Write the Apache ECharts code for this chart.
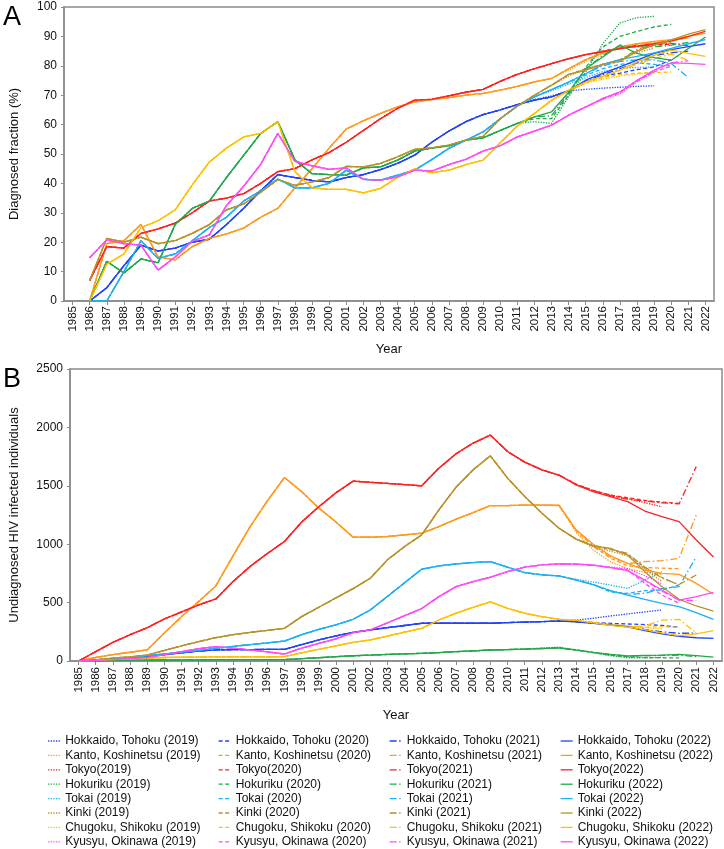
<!DOCTYPE html>
<html>
<head>
<meta charset="utf-8">
<script src="https://cdn.jsdelivr.net/npm/echarts@6/dist/echarts.min.js"></script>
<style>html,body{margin:0;padding:0;background:#fff}#c{width:724px;height:849px}</style>
</head>
<body>
<div id="c"></div>
<script>
const YEARS = ['1985','1986','1987','1988','1989','1990','1991','1992','1993','1994','1995','1996','1997','1998','1999','2000','2001','2002','2003','2004','2005','2006','2007','2008','2009','2010','2011','2012','2013','2014','2015','2016','2017','2018','2019','2020','2021','2022'];
const TAIL_START = 2012; // variant (2019/2020/2021) arrays hold values from 2012 up to their vintage year
const REGIONS = ['Hokkaido, Tohoku','Kanto, Koshinetsu','Tokyo','Hokuriku','Tokai','Kinki','Chugoku, Shikoku','Kyusyu, Okinawa'];
const VINTAGES = [2019, 2020, 2021, 2022];
const Y_TICKS_A = [0,10,20,30,40,50,60,70,80,90,100];
const Y_TICKS_B = [0,500,1000,1500,2000,2500];

// ---------- Panel A: diagnosed fraction (%) ----------
const A_HOKKAIDO_2022 = [null,0,4.5,12,19,17,18,20,21,26,31.5,37.5,43,42,41,40.5,42,43,44.7,46.8,49.6,54,57.8,61,63.4,65,66.8,68.3,69.4,71.5,75.1,77.4,79.6,81.9,84.2,85.5,86.5,87.5];
const A_HOKKAIDO_2019 = [68.5,69.8,71.5,72,72.4,72.7,73,73.2];
const A_HOKKAIDO_2020 = [68.3,69.4,71.5,74.5,76.5,77.5,78.7,79.6,82];
const A_HOKKAIDO_2021 = [68.3,69.4,71.5,74.8,77,79,81,83.5,84.4,85];

const A_KANTO_2022 = [null,0,19.5,20.5,26,15,14,18.5,21.3,22.8,24.8,28.5,31.5,38.5,45,52,58.5,61.3,63.8,66,67.7,68.5,69.2,70,70.6,71.7,73,74.5,75.7,79,82.1,84.4,86.4,87.5,88.3,88.9,90,91];
const A_KANTO_2019 = [74.5,75.7,78.5,81.5,84,86.5,87.5,87.8];
const A_KANTO_2020 = [74.5,75.7,79,82,84.4,86,86.5,87,87.3];
const A_KANTO_2021 = [74.5,75.7,79,82.1,84.4,86.2,87.2,88,88.5,89.5];

const A_TOKYO_2022 = [null,7,18.5,18,23,24.5,26.5,30,34,35,36.5,40,44,45,48,50.5,54,58,62,65.5,68.3,68.6,69.8,71,72,74.7,77.1,79,80.7,82.4,83.8,84.7,85.8,86.7,87.5,88.4,90,91.7];
const A_TOKYO_2019 = [79,80.7,82.4,83.8,84.9,86,86.6,87];
const A_TOKYO_2020 = [79,80.7,82.4,83.8,85,86.2,86.8,87.2,87.3];
const A_TOKYO_2021 = [79,80.7,82.4,83.8,84.9,86,86.8,87.3,87.6,86.8];

const A_HOKURIKU_2022 = [null,0,13.5,9.5,14.3,13,26,31.5,34,42,49.5,57,61,48,43.3,43,42.8,45.3,45.6,47.9,51,52,52.8,54.7,55.5,58,60.4,62.6,64.3,71,79,83,87,84.2,82.8,81.9,85.9,89.8];
const A_HOKURIKU_2019 = [61,60.4,69.4,77.9,87.5,94.6,96.4,96.8];
const A_HOKURIKU_2020 = [62,62,70,79.5,86.4,90,91.7,93.2,94.1];
const A_HOKURIKU_2021 = [62.6,63,70.5,79,83.5,87,86.4,86.5,87,88];

const A_TOKAI_2022 = [null,0,0,10,20.5,14.5,16,20.5,25,28.5,34,37.5,41.5,38.5,38.5,40,44.5,41.4,41.1,42.8,44.5,48.1,51.9,54.7,57.5,62,66.3,69.4,71.9,74.5,77.3,80.5,82.1,83.2,84.4,85.9,87.5,88.9];
const A_TOKAI_2019 = [69.4,71.5,73.8,76,78,79.2,79.4,79.6];
const A_TOKAI_2020 = [69.4,71.9,74.3,76.8,79,80.5,81,80.5,79.9];
const A_TOKAI_2021 = [69.4,71.9,74.5,77.3,80,81.5,82,82,80.8,76];

const A_KINKI_2022 = [null,7,21.3,20,21.7,19.5,20.5,23,26,31,33,37,41.3,39.3,40.5,42,45.8,45.6,46.8,49,51.6,52.1,53,54.7,56,62,66.3,70,73.4,77.1,78.5,80.5,81.5,85,87,88.8,90.8,92.3];
const A_KINKI_2019 = [70,73.4,76.5,79,80.5,82,84.5,86];
const A_KINKI_2020 = [70,73.4,77,79,80.5,82,85,87.2,87.8];
const A_KINKI_2021 = [70,73.4,77.1,78.5,80.5,82,85.5,87.5,88.8,89.5];

const A_CHUGOKU_2022 = [null,0,12.5,16,25,27.3,31,39.5,47.3,52,55.8,57,61,44,38.5,38,38,36.8,38.3,42,45,43.6,44.5,46.4,47.9,53.8,59.5,63.8,68.3,71.7,74.5,76.4,78.5,81.3,83.6,85.3,84.2,83.2];
const A_CHUGOKU_2019 = [63.8,68,71.5,74,75.5,76.5,77.2,77.6];
const A_CHUGOKU_2020 = [63.8,68.3,71.5,74.2,76,77,77.5,77.7,77.9];
const A_CHUGOKU_2021 = [63.8,68.3,71.7,74.5,76.4,78.5,80.5,82.5,84,81.9];

const A_KYUSYU_2022 = [null,14.7,20.8,19.5,19,10.5,15,20.3,22.5,32.5,39,46.5,57,47.5,46,44.8,45.3,41.4,41.1,42.2,44.5,44.2,46.4,48.2,51,52.8,55.8,57.8,59.8,63.2,66,68.9,71.1,75.1,78.5,81,80.8,80.5];
const A_KYUSYU_2019 = [57.8,59.8,63.2,66,68.5,70.5,74.5,77.9];
const A_KYUSYU_2020 = [57.8,59.8,63.2,66,68.7,70.8,74.8,78,79.9];
const A_KYUSYU_2021 = [57.8,59.8,63.2,66,68.9,71.1,75,78.5,81,81.7];

// ---------- Panel B: undiagnosed HIV infected individuals ----------
const B_HOKKAIDO_2022 = [0,8,18,28,40,55,70,85,95,97,98,99,100,140,180,215,245,266,285,304,323,323,323,323,323,329,333,337,342,336,323,308,292,261,233,210,199,194];
const B_HOKKAIDO_2019 = [337,343,350,366,386,403,420,437];
const B_HOKKAIDO_2020 = [337,343,338,330,322,317,312,305,290];
const B_HOKKAIDO_2021 = [337,342,336,323,310,296,270,250,237,240];

const B_KANTO_2022 = [0,30,55,75,95,240,380,510,643,900,1150,1370,1571,1450,1310,1190,1060,1060,1066,1080,1094,1151,1214,1271,1331,1331,1334,1334,1334,1123,1000,900,836,779,751,742,665,571];
const B_KANTO_2019 = [1334,1334,1100,950,850,790,760,740];
const B_KANTO_2020 = [1334,1330,1115,980,880,815,800,795,790];
const B_KANTO_2021 = [1334,1330,1120,990,890,835,850,859,879,1250];

const B_TOKYO_2022 = [0,80,160,225,285,360,420,480,531,680,810,920,1023,1190,1320,1440,1540,1530,1520,1510,1500,1651,1774,1866,1934,1794,1703,1637,1592,1507,1450,1407,1364,1284,1236,1193,1036,890];
const B_TOKYO_2019 = [1637,1590,1510,1455,1420,1390,1355,1321];
const B_TOKYO_2020 = [1637,1590,1515,1460,1420,1398,1375,1360,1350];
const B_TOKYO_2021 = [1637,1592,1512,1458,1415,1385,1370,1355,1345,1664];

const B_HOKURIKU_2022 = [0,2,4,6,8,9,10,10,11,11,11,12,12,20,28,37,45,50,56,61,66,72,80,87,94,98,102,106,112,94,74,57,43,49,51,57,46,34];
const B_HOKURIKU_2019 = [112,118,95,72,45,28,26,31];
const B_HOKURIKU_2020 = [108,114,94,72,50,35,30,28,26];
const B_HOKURIKU_2021 = [106,112,94,74,55,42,45,48,50,37];

const B_TOKAI_2022 = [0,10,20,30,45,60,75,90,108,125,140,155,171,225,270,310,357,437,553,670,786,814,831,843,851,803,757,737,728,693,653,602,565,528,494,465,414,357];
const B_TOKAI_2019 = [740,728,700,676,650,622,693,765];
const B_TOKAI_2020 = [737,728,695,655,590,579,602,608,651];
const B_TOKAI_2021 = [737,728,693,653,600,570,580,620,636,893];

const B_KINKI_2022 = [0,10,25,35,51,90,130,165,200,225,245,262,280,380,460,540,620,708,866,980,1080,1294,1488,1637,1757,1566,1409,1266,1137,1043,986,964,907,765,636,528,471,428];
const B_KINKI_2019 = [1266,1137,1040,975,940,900,790,680];
const B_KINKI_2020 = [1266,1137,1045,985,955,915,800,715,650];
const B_KINKI_2021 = [1266,1137,1045,990,960,920,805,710,655,736];

const B_CHUGOKU_2022 = [0,5,12,18,25,30,32,34,35,35,35,35,37,70,100,130,160,180,213,247,280,351,409,460,506,451,409,380,357,347,327,305,290,268,240,218,233,261];
const B_CHUGOKU_2019 = [380,357,345,330,315,300,285,274];
const B_CHUGOKU_2020 = [380,357,347,330,312,298,290,292,290];
const B_CHUGOKU_2021 = [380,357,347,327,308,295,300,350,357,240];

const B_KYUSYU_2022 = [0,5,12,20,30,55,80,105,123,110,95,78,60,110,150,190,243,266,327,388,449,551,637,680,717,766,803,823,831,830,820,800,773,693,608,522,551,588];
const B_KYUSYU_2019 = [823,831,830,820,805,790,730,660];
const B_KYUSYU_2020 = [823,831,830,820,800,780,665,565,494];
const B_KYUSYU_2021 = [823,831,830,820,800,775,690,600,520,517];

const PANEL_A = [
  [A_HOKKAIDO_2019,A_HOKKAIDO_2020,A_HOKKAIDO_2021,A_HOKKAIDO_2022],
  [A_KANTO_2019,A_KANTO_2020,A_KANTO_2021,A_KANTO_2022],
  [A_TOKYO_2019,A_TOKYO_2020,A_TOKYO_2021,A_TOKYO_2022],
  [A_HOKURIKU_2019,A_HOKURIKU_2020,A_HOKURIKU_2021,A_HOKURIKU_2022],
  [A_TOKAI_2019,A_TOKAI_2020,A_TOKAI_2021,A_TOKAI_2022],
  [A_KINKI_2019,A_KINKI_2020,A_KINKI_2021,A_KINKI_2022],
  [A_CHUGOKU_2019,A_CHUGOKU_2020,A_CHUGOKU_2021,A_CHUGOKU_2022],
  [A_KYUSYU_2019,A_KYUSYU_2020,A_KYUSYU_2021,A_KYUSYU_2022]
];
const PANEL_B = [
  [B_HOKKAIDO_2019,B_HOKKAIDO_2020,B_HOKKAIDO_2021,B_HOKKAIDO_2022],
  [B_KANTO_2019,B_KANTO_2020,B_KANTO_2021,B_KANTO_2022],
  [B_TOKYO_2019,B_TOKYO_2020,B_TOKYO_2021,B_TOKYO_2022],
  [B_HOKURIKU_2019,B_HOKURIKU_2020,B_HOKURIKU_2021,B_HOKURIKU_2022],
  [B_TOKAI_2019,B_TOKAI_2020,B_TOKAI_2021,B_TOKAI_2022],
  [B_KINKI_2019,B_KINKI_2020,B_KINKI_2021,B_KINKI_2022],
  [B_CHUGOKU_2019,B_CHUGOKU_2020,B_CHUGOKU_2021,B_CHUGOKU_2022],
  [B_KYUSYU_2019,B_KYUSYU_2020,B_KYUSYU_2021,B_KYUSYU_2022]
];

// ---------- styles ----------
const COLORS = ['#2243f7','#ff9a1e','#ff2121','#22a84a','#1db0f2','#b8922b','#ffc000','#ff4cf5'];
const LINE_TYPES = [[1.3,1.3],[4,2.5],[7,2.5,1.5,2.5],'solid'];
const FONT = '"Liberation Sans", Arial, sans-serif';

function seriesName(region, vintage) {
  return region === 'Tokyo' ? 'Tokyo(' + vintage + ')' : region + ' (' + vintage + ')';
}
function buildData(full, tail, vintage) {
  if (vintage === 2022) return full.slice();
  return YEARS.map(function (y, i) {
    const yr = +y;
    if (yr < TAIL_START) return full[i];
    if (yr <= vintage) return tail[yr - TAIL_START];
    return null;
  });
}

const series = [];
[PANEL_A, PANEL_B].forEach(function (panel, p) {
  REGIONS.forEach(function (region, r) {
    VINTAGES.forEach(function (v, k) {
      series.push({
        type: 'line',
        name: seriesName(region, v),
        xAxisIndex: p, yAxisIndex: p,
        data: buildData(panel[r][3], panel[r][k], v),
        symbol: 'none', showSymbol: false,
        connectNulls: false,
        z: k === 3 ? 3 : 2,
        lineStyle: { color: COLORS[r], width: 1.3, type: LINE_TYPES[k] },
        itemStyle: { color: COLORS[r] },
        emphasis: { disabled: true }
      });
    });
  });
});

const legendLefts = [47.5, 218, 389, 560];
const legends = VINTAGES.map(function (v, k) {
  return {
    orient: 'vertical', left: legendLefts[k], top: 735,
    itemWidth: 12, itemHeight: 8, itemGap: 2.4,
    padding: 0, selectedMode: false,
    data: REGIONS.map(function (r) { return seriesName(r, v); }),
    textStyle: { fontFamily: FONT, fontSize: 12, color: '#111', lineHeight: 12, padding: 0 },
    lineStyle: { width: 1.3 },
    itemStyle: { opacity: 0, color: 'transparent', borderColor: 'transparent', borderWidth: 0 }
  };
});

function xAxisFor(idx, margin, nameGap) {
  return {
    type: 'category', gridIndex: idx, data: YEARS, boundaryGap: true,
    axisLine: { lineStyle: { color: '#8a8a8a', width: 1.5 } },
    axisTick: { show: true, alignWithLabel: true, length: 4, lineStyle: { color: '#8a8a8a' } },
    axisLabel: { rotate: 90, interval: 0, margin: margin, fontFamily: FONT, fontSize: 11.5, color: '#111' },
    splitLine: { show: false },
    name: 'Year', nameLocation: 'middle', nameGap: nameGap,
    nameTextStyle: { fontFamily: FONT, fontSize: 13, color: '#111' }
  };
}
function yAxisFor(idx, ticks, name, nameGap) {
  return {
    type: 'value', gridIndex: idx, min: ticks[0], max: ticks[ticks.length - 1],
    interval: ticks[1] - ticks[0],
    axisLine: { show: true, lineStyle: { color: '#8a8a8a', width: 1.5 } },
    axisTick: { show: true, length: 3, lineStyle: { color: '#8a8a8a' } },
    axisLabel: { margin: 7, fontFamily: FONT, fontSize: 12, color: '#111', formatter: function (v) { return String(v); } },
    splitLine: { show: false },
    name: name, nameLocation: 'middle', nameGap: nameGap, nameRotate: 90,
    nameTextStyle: { fontFamily: FONT, fontSize: 13, color: '#111' }
  };
}

const option = {
  animation: false,
  backgroundColor: '#fff',
  grid: [
    { left: 61, right: 10, top: 7, height: 294, show: true, borderColor: '#8a8a8a', borderWidth: 1.5, backgroundColor: 'transparent' },
    { left: 67, right: 2, top: 369, height: 292, show: true, borderColor: '#8a8a8a', borderWidth: 1.5, backgroundColor: 'transparent' }
  ],
  xAxis: [xAxisFor(0, 5, 42), xAxisFor(1, 6, 48)],
  yAxis: [yAxisFor(0, Y_TICKS_A, 'Diagnosed fraction (%)', 43), yAxisFor(1, Y_TICKS_B, 'Undiagnosed HIV infected individuals', 49)],
  legend: legends,
  graphic: [
    { type: 'text', left: 3, top: 4, style: { text: 'A', fontFamily: FONT, fontSize: 27, fill: '#000' } },
    { type: 'text', left: 3, top: 366, style: { text: 'B', fontFamily: FONT, fontSize: 27, fill: '#000' } }
  ],
  series: series
};

const chart = echarts.init(document.getElementById('c'), null, { renderer: 'canvas' });
chart.setOption(option);
</script>
</body>
</html>
